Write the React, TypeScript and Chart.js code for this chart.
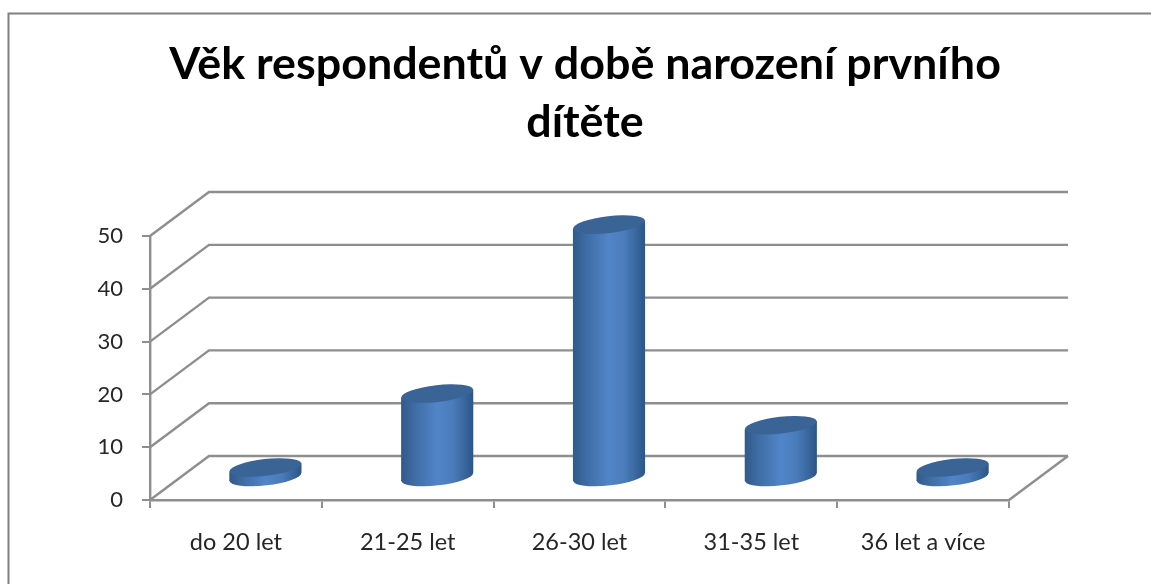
import React, { useEffect, useRef } from "react";
import { Chart, registerables } from "chart.js";

Chart.register(...registerables);

const categories = ["do 20 let", "21-25 let", "26-30 let", "31-35 let", "36 let a více"];
const respondents = [2, 16, 48, 10, 2];
const titleLines = ["Věk respondentů v době narození prvního", "dítěte"];
const yTicks = [0, 10, 20, 30, 40, 50];

const AXIS_GREY = "#8e8e8e";
const DEPTH_X = 59;
const DEPTH_Y = -44;

function shade(ctx: CanvasRenderingContext2D, left: number, right: number) {
  const g = ctx.createLinearGradient(left, 0, right, 0);
  g.addColorStop(0, "#31598b");
  g.addColorStop(0.2, "#3f6ea6");
  g.addColorStop(0.5, "#5185c9");
  g.addColorStop(0.72, "#4a7cba");
  g.addColorStop(1, "#2c5588");
  return g;
}

const depthPlugin = {
  id: "depth3d",
  afterLayout(chart: any) {
    chart.titleBlock.left += 80.5;
    chart.titleBlock.right += 80.5;
  },
  beforeDraw(chart: any) {
    const { ctx, width, height } = chart;
    ctx.save();
    ctx.fillStyle = "#ffffff";
    ctx.fillRect(0, 0, width, height);
    ctx.strokeStyle = "#808080";
    ctx.lineWidth = 2;
    ctx.beginPath();
    ctx.moveTo(8.5, height);
    ctx.lineTo(8.5, 13.5);
    ctx.lineTo(width, 13.5);
    ctx.stroke();
    ctx.restore();
  },
  beforeDatasetsDraw(chart: any) {
    const { ctx, chartArea, scales } = chart;
    const { left, right } = chartArea;
    ctx.save();
    ctx.strokeStyle = AXIS_GREY;
    ctx.lineWidth = 2.4;
    for (const t of yTicks) {
      const y = scales.y.getPixelForValue(t);
      ctx.beginPath();
      ctx.moveTo(left, y);
      ctx.lineTo(left + DEPTH_X, y + DEPTH_Y);
      ctx.lineTo(right + DEPTH_X, y + DEPTH_Y);
      ctx.stroke();
    }
    const y0 = scales.y.getPixelForValue(0);
    ctx.beginPath();
    ctx.moveTo(right, y0);
    ctx.lineTo(right + DEPTH_X, y0 + DEPTH_Y);
    ctx.stroke();
    ctx.restore();
  },
  beforeDatasetDraw(chart: any, args: any) {
    const { ctx } = chart;
    const meta = chart.getDatasetMeta(args.index);
    ctx.save();
    for (const bar of meta.data) {
      const props = bar.getProps(["x", "y", "base", "width"], true);
      const cx = props.x + DEPTH_X / 2;
      const rx = props.width / 2;
      const ry = 8.4;
      const rot = (-6.5 * Math.PI) / 180;
      const tilt = rx * Math.sin(-rot);
      const baseY = props.base + DEPTH_Y / 2;
      const topY = props.y + DEPTH_Y / 2;
      const l = cx - rx;
      const r = cx + rx;
      ctx.fillStyle = shade(ctx, l, r);
      ctx.beginPath();
      ctx.ellipse(cx, baseY, rx, ry, rot, 0, Math.PI * 2);
      ctx.fill();
      ctx.beginPath();
      ctx.moveTo(l, baseY + tilt);
      ctx.lineTo(l, topY + tilt);
      ctx.lineTo(r, topY - tilt);
      ctx.lineTo(r, baseY - tilt);
      ctx.closePath();
      ctx.fill();
      ctx.beginPath();
      ctx.ellipse(cx, topY, rx, ry, rot, 0, Math.PI * 2);
      ctx.fillStyle = "#3a6496";
      ctx.fill();
    }
    ctx.restore();
    return false;
  },
};

export default function App() {
  const ref = useRef<HTMLCanvasElement>(null);
  useEffect(() => {
    const chart = new Chart(ref.current!, {
      type: "bar",
      data: {
        labels: categories,
        datasets: [
          {
            label: "Věk respondentů",
            data: respondents,
            backgroundColor: "#4f81bd",
            categoryPercentage: 1,
            barPercentage: 0.42,
          },
        ],
      },
      options: {
        responsive: false,
        animation: false,
        layout: { padding: { left: 0, right: 142, top: 36, bottom: 0 } },
        plugins: {
          legend: { display: false },
          tooltip: { enabled: false },
          title: {
            display: true,
            text: titleLines,
            color: "#000000",
            font: { family: "Lato", size: 44.8, weight: "bold", lineHeight: 1.295 },
            padding: { top: 0, bottom: 84 },
          },
        },
        scales: {
          x: {
            afterFit(scale: any) {
              scale.height = 84;
            },
            grid: {
              drawOnChartArea: false,
              color: AXIS_GREY,
              lineWidth: 2,
              tickLength: 8,
            },
            border: { color: AXIS_GREY, width: 2.4 },
            ticks: { color: "#262626", font: { family: "Lato", size: 23.5 }, padding: 20, maxRotation: 0 },
          },
          y: {
            min: 0,
            max: 50,
            afterFit(scale: any) {
              scale.width = 150;
            },
            afterBuildTicks(scale: any) {
              scale.ticks = yTicks.map((value) => ({ value }));
            },
            grid: {
              drawOnChartArea: false,
              color: AXIS_GREY,
              lineWidth: 2,
              tickLength: 8,
            },
            border: { color: AXIS_GREY, width: 2.4 },
            ticks: { color: "#262626", font: { family: "Lato", size: 22 }, padding: 19 },
          },
        },
      },
      plugins: [depthPlugin],
    } as any);
    return () => chart.destroy();
  }, []);
  return (
    <canvas
      ref={ref}
      width={1151}
      height={584}
      style={{ position: "absolute", left: 0, top: 0, filter: "blur(0.7px)" }}
    />
  );
}
